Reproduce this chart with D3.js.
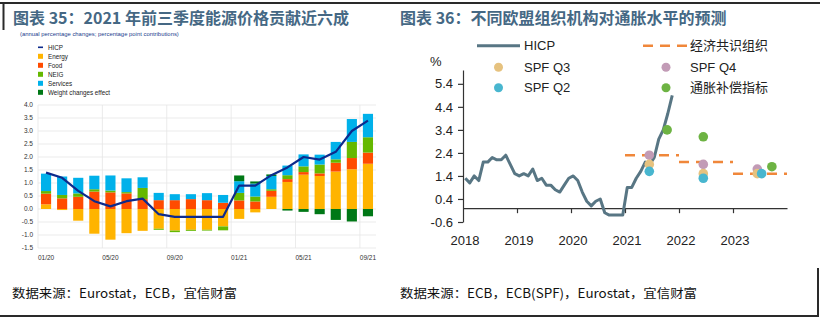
<!DOCTYPE html>
<html>

<head>
    <meta charset="utf-8">
    <title>HICP contributions and forecasts</title>
    <script src="https://d3js.org/d3.v7.min.js"></script>
    <style>
        body { margin: 0; background: #fff; }
        text { font-family: "Liberation Sans", Arial, sans-serif; }
        .cn { font-family: "Noto Sans CJK SC", sans-serif; }
    </style>

    <script type="text/javascript">
        // ---- chart 35: contributions to HICP (pp) ----
        let months = ["01/20", "02/20", "03/20", "04/20", "05/20", "06/20", "07/20", "08/20", "09/20", "10/20", "11/20", "12/20",
            "01/21", "02/21", "03/21", "04/21", "05/21", "06/21", "07/21", "08/21", "09/21"];
        let monthTicks = ["01/20", "05/20", "09/20", "01/21", "05/21", "09/21"];
        let energy = [0.18, -0.04, -0.45, -0.95, -1.18, -0.93, -0.84, -0.76, -0.83, -0.80, -0.80, -0.67, -0.38, -0.13, 0.47, 1.04, 1.32, 1.27, 1.44, 1.53, 1.74];
        let food = [0.41, 0.41, 0.47, 0.67, 0.64, 0.60, 0.38, 0.34, 0.34, 0.38, 0.34, 0.24, 0.33, 0.29, 0.23, 0.11, 0.10, 0.10, 0.34, 0.43, 0.43];
        let neig = [0.10, 0.13, 0.13, 0.09, 0.07, 0.05, 0.43, -0.04, -0.06, -0.04, -0.03, -0.15, 0.29, 0.19, 0.06, 0.15, 0.22, 0.34, 0.13, 0.62, 0.59];
        let services = [0.67, 0.71, 0.60, 0.52, 0.58, 0.53, 0.41, 0.28, 0.23, 0.19, 0.27, 0.30, 0.45, 0.50, 0.51, 0.37, 0.46, 0.38, 0.67, 0.88, 0.90];
        let weightEffect = [0, 0, 0, 0, 0, 0, 0, 0, 0, 0, 0, 0, 0.22, 0.08, 0.06, -0.06, -0.11, -0.20, -0.42, -0.48, -0.28];
        let hicpContrib = [1.4, 1.2, 0.7, 0.3, 0.1, 0.3, 0.4, -0.2, -0.3, -0.3, -0.3, -0.3, 0.9, 0.9, 1.3, 1.6, 2.0, 1.9, 2.2, 3.0, 3.4];
        let leftYTicks = [-1.5, -1.0, -0.5, 0.0, 0.5, 1.0, 1.5, 2.0, 2.5, 3.0, 3.5, 4.0];

        // ---- chart 36: HICP and forecasts ----
        let hicpStartYear = 2018;
        let hicpMonthly = [1.3, 1.1, 1.4, 1.2, 2.0, 2.0, 2.2, 2.1, 2.1, 2.3, 1.9, 1.5,
            1.4, 1.5, 1.4, 1.7, 1.2, 1.3, 1.0, 1.0, 0.8, 0.7, 1.0, 1.3,
            1.4, 1.2, 0.7, 0.3, 0.1, 0.3, 0.4, -0.2, -0.3, -0.3, -0.3, -0.3,
            0.9, 0.9, 1.3, 1.6, 2.0, 1.9, 2.2, 3.0, 3.4, 4.1, 4.9];
        let consensusYears = [2021, 2022, 2023];
        let consensusValues = [2.3, 2.0, 1.5];
        let spfQ4Dates = [2021.45, 2022.45, 2023.45];
        let spfQ4Values = [2.3, 1.9, 1.7];
        let spfQ3Dates = [2021.45, 2022.45, 2023.45];
        let spfQ3Values = [1.9, 1.5, 1.5];
        let spfQ2Dates = [2021.45, 2022.45, 2023.53];
        let spfQ2Values = [1.6, 1.3, 1.5];
        let compDates = [2021.78, 2022.45, 2023.72];
        let compValues = [3.4, 3.1, 1.8];
        let rightYTicks = [-0.6, 0.4, 1.4, 2.4, 3.4, 4.4, 5.4];
        let yearTicks = [2018, 2019, 2020, 2021, 2022, 2023];

        let fmt = v => d3.format(".1f")(v).replace("\u2212", "-");

        function drawLeft(svg) {
            let keys = ["energy", "food", "neig", "services", "weight"];
            let colors = { energy: "#ffb400", food: "#ff4b00", neig: "#65b800", services: "#00b1ea", weight: "#007816" };
            let rows = months.map((m, i) => ({
                month: m, energy: energy[i], food: food[i], neig: neig[i],
                services: services[i], weight: weightEffect[i]
            }));

            let x = d3.scaleBand().domain(months).range([38, 376]).paddingInner(0.37).paddingOuter(0.185);
            let y = d3.scaleLinear().domain([-1.5, 4.0]).range([248, 105]);
            let g = svg.append("g");

            // grid
            g.selectAll(".hgrid").data(leftYTicks).enter().append("line")
                .attr("x1", 38).attr("x2", 376)
                .attr("y1", d => y(d)).attr("y2", d => y(d))
                .attr("stroke", "#e6e6e6").attr("stroke-width", 0.8);
            let off = (x.step() - x.bandwidth()) / 2;
            g.selectAll(".vgrid").data(monthTicks).enter().append("line")
                .attr("x1", d => x(d) - off).attr("x2", d => x(d) - off)
                .attr("y1", y(4.0)).attr("y2", y(-1.5))
                .attr("stroke", "#e6e6e6").attr("stroke-width", 0.8);

            g.selectAll(".ylab").data(leftYTicks).enter().append("text")
                .attr("x", 33).attr("y", d => y(d)).attr("dy", "0.35em")
                .attr("text-anchor", "end").attr("font-size", 6.5).attr("fill", "#333")
                .text(fmt);
            g.selectAll(".xlab").data(monthTicks).enter().append("text")
                .attr("x", d => x(d) + x.bandwidth() / 2).attr("y", 260)
                .attr("text-anchor", "middle").attr("font-size", 6.5).attr("fill", "#333")
                .text(d => d);

            // stacked bars
            let series = d3.stack().keys(keys).offset(d3.stackOffsetDiverging)(rows);
            g.selectAll(".series").data(series).enter().append("g")
                .attr("fill", d => colors[d.key])
                .selectAll("rect").data(d => d).enter().append("rect")
                .attr("x", d => x(d.data.month))
                .attr("width", x.bandwidth())
                .attr("y", d => y(d[1]))
                .attr("height", d => Math.abs(y(d[0]) - y(d[1])));

            // HICP line
            let line = d3.line().x((d, i) => x(months[i]) + x.bandwidth() / 2).y(d => y(d));
            g.append("path").attr("d", line(hicpContrib))
                .attr("fill", "none").attr("stroke", "#0d2a8c").attr("stroke-width", 2.2)
                .attr("stroke-linejoin", "round");

            // subtitle and legend
            g.append("text").attr("x", 20).attr("y", 36).attr("font-size", 5.9).attr("fill", "#23408e")
                .text("(annual percentage changes; percentage point contributions)");
            let legend = [["HICP", "#0d2a8c"], ["Energy", colors.energy], ["Food", colors.food],
                ["NEIG", colors.neig], ["Services", colors.services], ["Weight changes effect", colors.weight]];
            let lg = g.selectAll(".lg").data(legend).enter().append("g")
                .attr("transform", (d, i) => "translate(38," + (47.3 + i * 9) + ")");
            lg.append("rect")
                .attr("x", 0).attr("width", 5)
                .attr("y", (d, i) => i == 0 ? -0.8 : -2.5)
                .attr("height", (d, i) => i == 0 ? 1.6 : 5)
                .attr("fill", d => d[1]);
            lg.append("text").attr("x", 10).attr("dy", "0.35em")
                .attr("font-size", 6.3).attr("fill", "#222").text(d => d[0]);
        }

        function drawRight(svg) {
            let x = d3.scaleLinear().domain([2018, 2024]).range([463, 787]);
            let y = d3.scaleLinear().domain([-0.6, 6.0]).range([222, 70]);
            let g = svg.append("g");
            let slate = "#587684", orange = "#f0873a";
            let cQ3 = "#e6c27f", cQ4 = "#c29bb6", cQ2 = "#48b6cf", cComp = "#6db343";

            let yAxis = g.append("g").attr("transform", "translate(463,0)")
                .call(d3.axisLeft(y).tickValues(rightYTicks).tickSize(5).tickSizeOuter(0).tickFormat(fmt));
            yAxis.selectAll("text").attr("font-size", 13).attr("fill", "#222").attr("x", -10)
                .attr("font-family", "Liberation Sans, Arial, sans-serif");
            yAxis.selectAll("line,path").attr("stroke", "#333").attr("stroke-width", 1.2);

            let xAxis = g.append("g").attr("transform", "translate(0," + y(0) + ")")
                .call(d3.axisBottom(x).tickValues(yearTicks.slice(1)).tickSize(5).tickSizeOuter(0).tickFormat(""));
            xAxis.selectAll("line,path").attr("stroke", "#333").attr("stroke-width", 1.2);

            g.selectAll(".yr").data(yearTicks).enter().append("text")
                .attr("x", d => x(d) + 2).attr("y", 245)
                .attr("text-anchor", "middle").attr("font-size", 13).attr("fill", "#222")
                .text(d => d);
            g.append("text").attr("x", 430).attr("y", 66).attr("font-size", 13).attr("fill", "#222").text("%");

            // consensus dashes
            g.selectAll(".cons").data(consensusYears).enter().append("line")
                .attr("x1", d => x(d)).attr("x2", d => x(d + 1))
                .attr("y1", (d, i) => y(consensusValues[i])).attr("y2", (d, i) => y(consensusValues[i]))
                .attr("stroke", orange).attr("stroke-width", 2.5).attr("stroke-dasharray", "10,7");

            // HICP
            let line = d3.line().x((d, i) => x(hicpStartYear + (i + 0.5) / 12)).y(d => y(d));
            g.append("path").attr("d", line(hicpMonthly))
                .attr("fill", "none").attr("stroke", slate).attr("stroke-width", 3)
                .attr("stroke-linejoin", "round");

            // forecast dots
            let dots = [[spfQ4Dates, spfQ4Values, cQ4], [spfQ3Dates, spfQ3Values, cQ3],
                [spfQ2Dates, spfQ2Values, cQ2], [compDates, compValues, cComp]];
            dots.forEach(s => {
                g.selectAll(null).data(s[1]).enter().append("circle")
                    .attr("cx", (d, i) => x(s[0][i])).attr("cy", d => y(d))
                    .attr("r", 4.8).attr("fill", s[2]);
            });

            // legend
            let lt = (xp, yp, t, cn) => g.append("text").attr("x", xp).attr("y", yp).attr("dy", "0.36em")
                .attr("class", cn ? "cn" : null).attr("font-size", 13).attr("fill", "#222").text(t);
            g.append("line").attr("x1", 477).attr("x2", 520).attr("y1", 45.7).attr("y2", 45.7)
                .attr("stroke", slate).attr("stroke-width", 3);
            lt(524, 45.7, "HICP");
            g.append("line").attr("x1", 643).attr("x2", 689).attr("y1", 45.7).attr("y2", 45.7)
                .attr("stroke", orange).attr("stroke-width", 2.5).attr("stroke-dasharray", "10,7");
            lt(690, 45.7, "经济共识组织", true);
            let ld = (xp, yp, c) => g.append("circle").attr("cx", xp).attr("cy", yp).attr("r", 4.5).attr("fill", c);
            ld(498.5, 67.3, cQ3); lt(524, 67.3, "SPF Q3");
            ld(666, 67.3, cQ4); lt(690, 67.3, "SPF Q4");
            ld(498.5, 87.7, cQ2); lt(524, 87.7, "SPF Q2");
            ld(666, 87.7, cComp); lt(690, 87.7, "通胀补偿指标", true);
        }

        function draw() {
            let svg = d3.select("body").append("svg")
                .attr("width", 820).attr("height", 322);

            // report frame
            svg.append("line").attr("x1", 0).attr("x2", 820).attr("y1", 3).attr("y2", 3)
                .attr("stroke", "#2a2a2a").attr("stroke-width", 2);
            svg.append("line").attr("x1", 3.5).attr("x2", 3.5).attr("y1", 2).attr("y2", 30)
                .attr("stroke", "#2a2a2a").attr("stroke-width", 2);
            svg.append("line").attr("x1", 0).attr("x2", 819).attr("y1", 316).attr("y2", 316)
                .attr("stroke", "#2a2a2a").attr("stroke-width", 2);
            svg.append("line").attr("x1", 818).attr("x2", 818).attr("y1", 268).attr("y2", 317)
                .attr("stroke", "#2a2a2a").attr("stroke-width", 2);

            // titles
            svg.append("text").attr("class", "cn").attr("x", 13).attr("y", 24)
                .attr("font-size", 16).attr("font-weight", "bold").attr("fill", "#456884")
                .text("图表 35：2021 年前三季度能源价格贡献近六成");
            svg.append("text").attr("class", "cn").attr("x", 400).attr("y", 24)
                .attr("font-size", 16).attr("font-weight", "bold").attr("fill", "#456884")
                .text("图表 36：不同欧盟组织机构对通胀水平的预测");

            drawLeft(svg);
            drawRight(svg);

            // sources
            svg.append("text").attr("class", "cn").attr("x", 12).attr("y", 298)
                .attr("font-size", 12.5).attr("fill", "#111")
                .attr("textLength", 225).attr("lengthAdjust", "spacingAndGlyphs")
                .text("数据来源：Eurostat，ECB，宜信财富");
            svg.append("text").attr("class", "cn").attr("x", 400).attr("y", 298)
                .attr("font-size", 12.5).attr("fill", "#111")
                .attr("textLength", 297).attr("lengthAdjust", "spacingAndGlyphs")
                .text("数据来源：ECB，ECB(SPF)，Eurostat，宜信财富");
        }
    </script>
</head>

<body>
    <script type="text/javascript">
        draw();
    </script>
</body>

</html>
